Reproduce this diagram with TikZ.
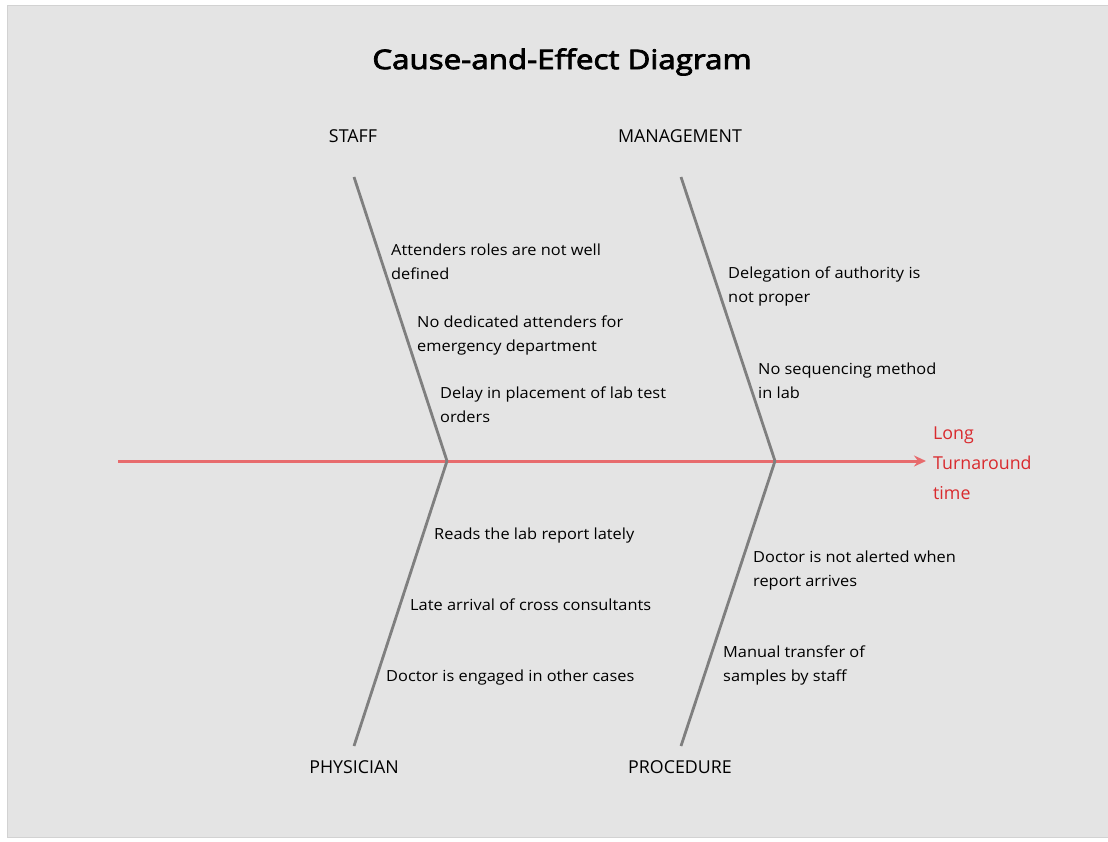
\documentclass[tikz,border=0pt]{standalone}
\usepackage{fontspec}
\setmainfont[FakeStretch=1.07]{Open Sans}
\newfontfamily\titlef[FakeStretch=1.16,FakeBold=3]{Open Sans}
\newfontfamily\catf{Open Sans}
\usetikzlibrary{arrows.meta}
\definecolor{bg}{HTML}{E4E4E4}
\definecolor{frame}{HTML}{D2D2D2}
\definecolor{bone}{HTML}{7F7F7F}
\definecolor{spine}{HTML}{E76B6D}
\definecolor{effect}{HTML}{D92A2E}
\tikzset{
  cause/.style={anchor=west, inner sep=0pt, font=\fontsize{15.3}{24}\selectfont, align=left, text=black},
  cat/.style={inner sep=0pt, font=\catf\fontsize{17.8}{20}\selectfont, text=black},
  bonel/.style={draw=bone, line width=2.8pt},
}
\begin{document}
\begin{tikzpicture}[x=1pt,y=-1pt]
\useasboundingbox (0,0) rectangle (1108,842);
\fill[white] (0,0) rectangle (1108,842);
\draw[frame, fill=bg, line width=1pt] (7.5,5.5) rectangle (1112,837.5);
\node[inner sep=0pt, font=\titlef\fontsize{27}{32}\selectfont] (title) at (562,62) {Cause-and-Effect Diagram};
% spine
\coordinate (tail) at (118,461);
\coordinate (head) at (926,461);
\coordinate (j1) at (447,461);
\coordinate (j2) at (775,461);
% category ends
\coordinate (s1) at (354,177);
\coordinate (p1) at (354,746);
\coordinate (m1) at (681,177);
\coordinate (r1) at (681,746);
\draw[spine, line width=3pt, -{Stealth[length=12pt,width=11pt,inset=4pt]}] (tail) -- (head);
\draw[bonel] (s1) -- (j1);
\draw[bonel] (j1) -- (p1);
\draw[bonel] (m1) -- (j2);
\draw[bonel] (j2) -- (r1);
% category labels
\node[cat] (staff) at (353,136) {STAFF};
\node[cat] (mgmt) at (680,136) {MANAGEMENT};
\node[cat] (phys) at (354,767) {PHYSICIAN};
\node[cat] (proc) at (680,767) {PROCEDURE};
% effect
\node[anchor=west, inner sep=0pt, align=left, text=effect, font=\catf\fontsize{17.8}{30}\selectfont] (effect) at (933,463) {Long\\Turnaround\\time};
% causes
\node[cause] (c1) at (391,262) {Attenders roles are not well\\defined};
\node[cause] (c2) at (417,335) {No dedicated attenders for\\emergency department};
\node[cause] (c3) at (440,405) {Delay in placement of lab test\\orders};
\node[cause] (c4) at (728,286) {Delegation of authority is\\not proper};
\node[cause] (c5) at (758,381) {No sequencing method\\in lab};
\node[cause] (c6) at (434,536) {Reads the lab report lately};
\node[cause] (c7) at (410,605) {Late arrival of cross consultants};
\node[cause] (c8) at (386,678) {Doctor is engaged in other cases};
\node[cause] (c9) at (753,571) {Doctor is not alerted when\\report arrives};
\node[cause] (c10) at (723,665) {Manual transfer of\\samples by staff};
\end{tikzpicture}
\end{document}
